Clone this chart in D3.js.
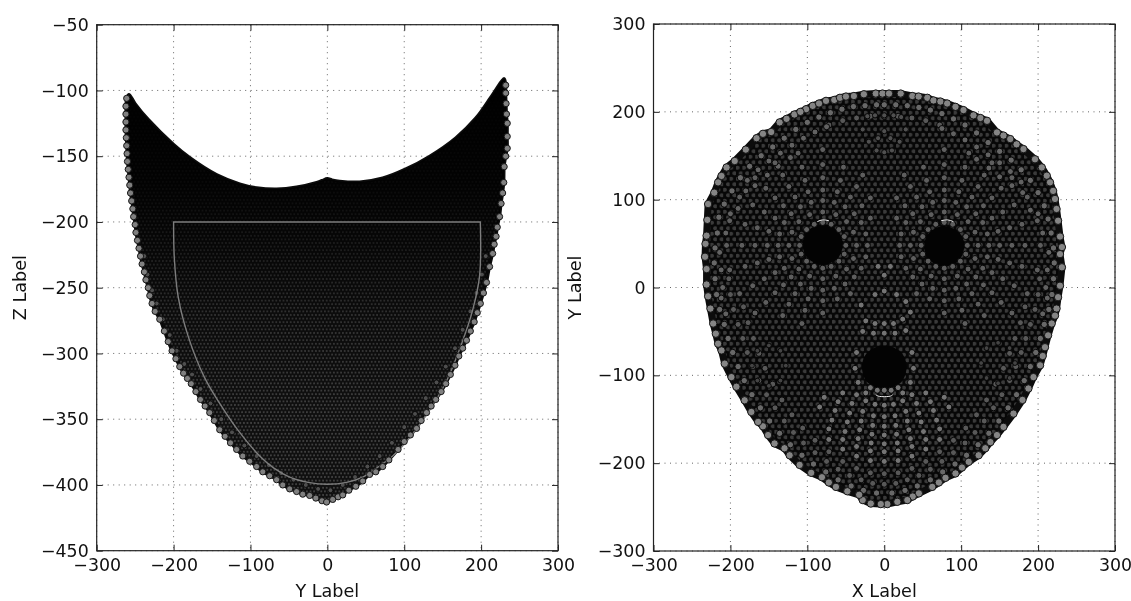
<!DOCTYPE html>
<html>
<head>
<meta charset="utf-8">
<script src="https://cdn.jsdelivr.net/npm/d3@7"></script>
<style>
  html, body { margin: 0; padding: 0; background: #fff; }
  svg { display: block; filter: blur(0.35px); }
  text { font-family: "DejaVu Sans", sans-serif; fill: #111; }
</style>
</head>
<body>
<div class="chart"></div>
<script>
const zTicks = [-450, -400, -350, -300, -250, -200, -150, -100, -50];
const faceXTicks = [-300, -200, -100, 0, 100, 200, 300];

// left panel: edge of the cloud (y, z)
const sideTopEdge = [[230,-91],[215,-103],[193,-121],[167,-136],[133,-150],[102,-159.7],[72,-166.6],[42,-169.6],[16,-169],[6,-168],[0,-167],[-7,-168.5],[-14,-170],[-40,-173.5],[-66,-175],[-92,-174],[-114,-171],[-144,-164],[-179,-151],[-200,-141],[-233,-122],[-250,-110],[-258,-103]];
const sideEdgeDots = [[-261,-106],[-262,-112],[-262,-118],[-262,-124],[-262,-130],[-261.5,-136],[-261,-142],[-260.5,-148],[-260,-154],[-259,-160],[-258,-166],[-257,-172],[-256,-178],[-254.5,-184],[-253,-190],[-252,-196],[-250,-202],[-249,-208],[-247,-214],[-245,-220],[-243,-226],[-241,-232],[-238,-238],[-236,-244],[-233,-250],[-231,-256],[-228,-262],[-224,-268],[-218,-274],[-212,-283],[-207,-291],[-202,-298],[-197,-304],[-192,-310],[-187,-315],[-182,-319],[-177,-323],[-171,-329],[-165,-335],[-159,-340],[-153,-345],[-147,-351],[-140,-358],[-133,-363],[-126,-368],[-118,-373],[-110,-378],[-101,-382],[-92,-386],[-84,-390],[-75,-393],[-66,-396],[-58,-400],[-49,-403],[-40,-405],[-32,-407],[-23,-408],[-15,-410],[-7,-412],[-1,-413],[7,-411],[14,-409],[20,-407.6],[28,-404],[37,-401],[46,-397],[55,-392],[63,-390],[72,-386],[80,-381],[92,-373],[100,-367],[108,-362],[116,-357],[122,-351],[129,-345],[135,-340],[141,-335],[148,-329],[154,-323],[160,-316],[166,-309],[171,-302],[176,-296],[181,-290],[186,-283],[191,-276],[195,-269],[199,-262],[203,-254],[207,-246],[211,-234],[215,-224],[217,-217],[219.5,-211],[221,-204],[224,-196],[226,-186],[228,-178],[229.5,-170],[230,-158],[232,-150],[234,-144],[234,-135],[234,-125],[233,-118],[232.5,-110],[232,-102],[232,-96]];
const sideInnerDots = [[-238,-226],[-234,-240],[-228,-252],[-222,-262],[-214,-274],[-205,-286],[-196,-298],[-186,-308],[-176,-316],[-165,-327],[-152,-338],[-138,-350],[-124,-360],[-108,-370],[-92,-378],[-76,-385],[-60,-391],[-44,-396],[-28,-400],[-12,-403],[4,-404],[20,-400],[36,-394],[52,-386],[68,-378],[84,-368],[100,-356],[114,-346],[128,-334],[142,-322],[154,-310],[166,-296],[176,-282],[186,-268],[194,-254],[201,-240],[206,-226]];
const sideCurve = [[-200,-200],[-199,-228],[-194,-257],[-181,-287],[-160,-318],[-140,-338],[-118,-357],[-88,-378],[-70,-387],[-49,-394],[-25,-398],[0,-399.5],[25,-398],[46,-394],[62,-388],[85,-378],[103,-367],[133,-343],[155,-321],[175,-292],[189,-267],[198,-241],[199,-200]];

// right panel: edge of the cloud (x, y)
const faceEdgeDots = [[-101.6,203],[-93,206.8],[-84.8,209.5],[-75.7,212.5],[-65,213.6],[-57.6,216],[-49.8,217.4],[-39.5,218],[-26.5,220],[-11,220.8],[-2.3,220.8],[6.2,220.8],[21.4,220.8],[36.5,218],[44.7,217.4],[56,216],[64,213],[73,211.7],[81.8,209.5],[92.6,205.7],[103,202],[116,196],[125,193],[133.6,189.8],[146.5,176.5],[155,173],[163.8,169],[172,163],[181,157.6],[196,146],[204.8,136.7],[211.3,127.3],[215.5,119.7],[219.6,110],[222,100.8],[224,89.4],[226,76],[228.5,58],[231,46],[228.5,38],[231,23],[228.5,2],[226,-11],[224,-24],[222,-32],[217.7,-41],[213,-54.5],[209,-68],[206,-78],[202.6,-88.6],[194,-102],[187.4,-115],[179.7,-128],[168,-143.6],[155,-158.7],[146.5,-168],[138,-176],[131.4,-183],[122.7,-191],[109.8,-198.5],[101,-205],[92.6,-211.7],[79.6,-216.7],[71,-222],[62.4,-227],[45,-234.4],[37,-238],[30,-242],[17,-244],[4,-246.6],[-4.5,-246.6],[-17.5,-246],[-28,-242],[-32.6,-236],[-48,-232],[-62.8,-227],[-72,-222],[-81,-216],[-95,-211],[-110,-202],[-123,-191],[-129.7,-183],[-142.6,-177.6],[-151,-168],[-157.7,-158],[-164,-153],[-172.8,-141.7],[-181.5,-128.4],[-192.2,-113],[-198.7,-102],[-207.4,-86.7],[-211.6,-71.6],[-216,-64],[-219,-52.6],[-222.4,-41],[-226,-24],[-229,-10],[-231,3.4],[-231,21],[-233,35],[-232.4,49.7],[-231,59],[-230,77],[-229,95],[-221,108],[-216,119.7],[-211.6,127],[-205,136.7],[-194.4,144],[-180,157],[-166,170],[-157.7,175],[-147,177],[-136,188],[-127,192],[-116.8,197],[-109,200]];
const faceContour2 = [[0,208],[15,208],[30,207],[45,205],[60,202],[75,198],[90,192],[105,185],[120,176],[135,165],[150,155],[165,145],[178,134],[190,122],[200,108],[208,93],[213,78],[217,62],[220,45],[221,28],[220,10],[218,-8],[214,-25],[208,-42],[203,-58],[197,-74],[190,-90],[182,-106],[172,-122],[161,-137],[149,-152],[136,-166],[122,-179],[107,-191],[92,-201],[76,-210],[60,-219],[43,-226],[27,-231],[10,-234],[-10,-234],[-27,-231],[-43,-226],[-60,-219],[-76,-210],[-92,-201],[-107,-191],[-122,-179],[-136,-166],[-149,-152],[-161,-137],[-172,-122],[-182,-106],[-190,-90],[-197,-74],[-203,-58],[-208,-42],[-214,-25],[-218,-8],[-220,10],[-221,28],[-220,45],[-217,62],[-215,80],[-208,95],[-198,110],[-187,125],[-175,138],[-160,150],[-145,160],[-130,170],[-115,180],[-100,188],[-85,194],[-70,199],[-55,203],[-40,206],[-25,207],[-10,208]];
const faceContour3 = [[0,-224],[15,-223],[30,-219],[45,-214],[60,-207],[75,-198],[90,-188],[105,-177],[118,-165],[130,-152],[142,-137],[153,-122],[163,-106],[171,-90],[178,-74],[184,-58],[190,-42],[196,-25],[200,-8],[202,10],[-15,-223],[-30,-219],[-45,-214],[-60,-207],[-75,-198],[-90,-188],[-105,-177],[-118,-165],[-130,-152],[-142,-137],[-153,-122],[-163,-106],[-171,-90],[-178,-74],[-184,-58],[-190,-42],[-196,-25],[-200,-8],[-202,10],[0,195],[18,195],[36,193],[54,190],[72,185],[-18,195],[-36,193],[-54,190],[-72,185]];
const faceContour4 = [[0,-212],[18,-211],[36,-206],[54,-198],[72,-187],[90,-174],[106,-160],[120,-145],[133,-128],[145,-110],[155,-92],[163,-75],[170,-58],[177,-40],[183,-22],[-18,-211],[-36,-206],[-54,-198],[-72,-187],[-90,-174],[-106,-160],[-120,-145],[-133,-128],[-145,-110],[-155,-92],[-163,-75],[-170,-58],[-177,-40],[-183,-22]];
const upperRows = [[-178,122],[-164,134],[-150,144],[-135,153],[-120,162],[-105,170],[-90,177],[-75,183],[178,120],[164,132],[150,142],[135,151],[120,160],[105,168],[90,175],[75,181],[-190,90],[-180,110],[-168,116],[-152,128],[-138,138],[-122,148],[190,88],[180,108],[166,116],[150,126],[136,136],[120,146],[-214,40],[-212,20],[-210,0],[-206,62],[-200,84],[214,40],[212,20],[210,0],[206,62],[200,84],[-212,-12],[-206,-30],[212,-12],[206,-30]];
const eyeRings = [[-50,48],[-52,58],[-59,66],[-69,72],[-80,74],[-91,72],[-101,66],[-108,58],[-110,48],[-108,38],[-101,30],[-91,24],[-80,22],[-69,24],[-59,30],[-52,38],
  [108,48],[106,58],[99,66],[89,72],[78,74],[67,72],[57,66],[50,58],[48,48],[50,38],[57,30],[67,24],[78,22],[89,24],[99,30],[106,38],
  [-36,48],[-40,63],[-49,75],[-63,83],[-80,86],[-97,83],[-111,75],[-120,63],[-124,48],[-120,33],[-111,21],[-97,13],[-80,10],[-63,13],[-49,21],[-40,33],
  [122,48],[118,63],[109,75],[95,83],[78,86],[61,83],[47,75],[38,63],[34,48],[38,33],[47,21],[61,13],[78,10],[95,13],[109,21],[118,33],
  [-22,48],[-24,61],[-30,74],[-39,84],[-51,92],[-65,97],[-80,99],[-95,97],[-109,92],[-121,84],[-130,74],[-136,61],[-138,48],[-136,35],[-130,22],[-121,12],[-109,4],[-95,-1],[-80,-3],[-65,-1],[-51,4],[-39,12],[-30,22],[-24,35],
  [136,48],[134,61],[128,74],[119,84],[107,92],[93,97],[78,99],[63,97],[49,92],[37,84],[28,74],[22,61],[20,48],[22,35],[28,22],[37,12],[49,4],[63,-1],[78,-3],[93,-1],[107,4],[119,12],[128,22],[134,35],
  [-80,111],[-99,109],[-116,103],[-131,93],[-142,79],[-150,64],[-152,48],[-150,32],[-142,17],[-131,3],[-116,-7],[-99,-13],[-80,-15],[-61,-13],[-44,-7],[-61,109],[-44,103],[-29,93],[-18,79],
  [78,111],[97,109],[114,103],[129,93],[140,79],[148,64],[150,48],[148,32],[140,17],[129,3],[114,-7],[97,-13],[78,-15],[59,-13],[42,-7],[59,109],[42,103],[27,93],[16,79],
  [-80,125],[-103,122],[-124,115],[-142,102],[-156,86],[-165,68],[-168,48],[-165,28],[-156,10],[-142,-6],[-124,-19],[-103,-26],[-80,-29],[-57,122],[-36,115],[-18,102],
  [78,125],[101,122],[122,115],[140,102],[154,86],[163,68],[166,48],[163,28],[154,10],[140,-6],[122,-19],[101,-26],[78,-29],[55,122],[34,115],[16,102],
  [-80,140],[-107,137],[-132,128],[-154,113],[-171,94],[-181,72],[-185,48],[-181,24],[-171,2],[-154,-17],[-132,-32],[-107,-41],[-53,137],[-28,128],
  [78,140],[105,137],[130,128],[152,113],[169,94],[179,72],[183,48],[179,24],[169,2],[152,-17],[130,-32],[105,-41],[51,137],[26,128],
  [-80,157],[-112,153],[-142,142],[-168,125],[-188,103],[-201,76],[-205,48],[-201,20],[-188,-7],[-168,-29],
  [78,157],[110,153],[140,142],[166,125],[186,103],[199,76],[203,48],[199,20],[186,-7],[166,-29]];
const chinRows = [[0,-134],[12,-133],[-12,-133],[24,-129],[-24,-129],[36,-122],[-36,-122],
  [0,-147],[14,-146],[-14,-146],[28,-141],[-28,-141],[42,-132],[-42,-132],[54,-120],[-54,-120],
  [0,-158],[15,-157],[-15,-157],[30,-152],[-30,-152],[45,-143],[-45,-143],[60,-130],[-60,-130],
  [0,-168],[16,-167],[-16,-167],[32,-162],[-32,-162],[48,-153],[-48,-153],[64,-140],[-64,-140],[78,-125],[-78,-125],
  [0,-178],[17,-177],[-17,-177],[34,-172],[-34,-172],[51,-164],[-51,-164],[68,-151],[-68,-151],[84,-136],[-84,-136],
  [0,-187],[18,-186],[-18,-186],[36,-181],[-36,-181],[54,-173],[-54,-173],[72,-161],[-72,-161],
  [0,-198],[18,-197],[-18,-197],[36,-192],[-36,-192],[54,-184],[-54,-184],[72,-173],[-72,-173]];
const noseDots = [[0,-41],[-12,-41],[12,-41],[-24,-38],[24,-36],[0,-52],[-14,-52],[14,-52],[-28,-50],[28,-49],[-38,-92],[38,-92],[-36,-74],[36,-74],[-34,-108],[34,-108],[-24,-120],[24,-120],[0,-117],[-9,-117],[9,-117],[-18,-114],[18,-114],[34,-28],[28,-16],[-30,-20],[16,-8],[-12,-8],[0,-4],[0,14],[-8,24],[8,24]];
const foreheadDots = [[-22,195],[-12,196],[0,196],[12,196],[22,194],[28,180],[20,166],[10,156],[0,154],[-10,156],[-20,166],[-28,180],[0,178],[-8,170],[8,170]];
const cheekDots = [[-172,-89],[-165,-72],[-150,-66],[-135,-72],[-128,-89],[-135,-106],[-150,-112],[-165,-106],[126,-86],[133,-69],[148,-63],[163,-69],[170,-86],[163,-103],[148,-109],[133,-103]];
const leftEyeCore = [[-106,50],[-100,64],[-80,72],[-60,64],[-54,50],[-60,34],[-80,26],[-100,34]];
const rightEyeCore = [[52,48],[58,62],[78,70],[98,62],[104,48],[98,32],[78,24],[58,32]];
const noseCore = [[-29,-90],[-22,-74],[0,-66],[22,-74],[29,-90],[22,-108],[0,-115],[-22,-108]];
const gapArcs = [[[-11,-122],[-6,-124],[6,-124],[11,-122]],[[-87,75],[-80,77],[-72,76]],[[74,76],[82,77],[90,75]]];

const width = 1131, height = 601;
const svg = d3.select(".chart").append("svg").attr("width", width).attr("height", height);
const defs = svg.append("defs");

function lattice(id, w, h, r, bg, dot) {
    const p = defs.append("pattern").attr("id", id).attr("patternUnits", "userSpaceOnUse")
        .attr("width", w).attr("height", h);
    p.append("rect").attr("width", w).attr("height", h).attr("fill", bg);
    p.append("circle").attr("cx", w / 4).attr("cy", h / 4).attr("r", r).attr("fill", dot);
    p.append("circle").attr("cx", w * 3 / 4).attr("cy", h * 3 / 4).attr("r", r).attr("fill", dot);
}
lattice("fineDots", 3.6, 7.2, 1.05, "#0e0e0e", "#424242");
lattice("faceDots", 6.4, 11, 2, "#070707", "#3a3a3a");

const fade = defs.append("linearGradient").attr("id", "fade").attr("x1", 0).attr("x2", 0).attr("y1", 0).attr("y2", 1);
fade.append("stop").attr("offset", "0").attr("stop-color", "#000").attr("stop-opacity", 1);
fade.append("stop").attr("offset", "0.25").attr("stop-color", "#000").attr("stop-opacity", 0.85);
fade.append("stop").attr("offset", "0.55").attr("stop-color", "#000").attr("stop-opacity", 0.25);
fade.append("stop").attr("offset", "0.8").attr("stop-color", "#000").attr("stop-opacity", 0);

function panel(left, right, top, bottom, xDomain, yDomain, yTicks, xLabel, yLabel, labelX) {
    const x = d3.scaleLinear().domain(xDomain).range([left, right]);
    const y = d3.scaleLinear().domain(yDomain).range([bottom, top]);
    const g = svg.append("g");
    const under = g.append("g");
    under.selectAll(".gx").data(faceXTicks).join("line")
        .attr("x1", d => x(d)).attr("x2", d => x(d)).attr("y1", top).attr("y2", bottom)
        .attr("stroke", "#555").attr("stroke-width", 0.9).attr("stroke-dasharray", "1 4.5");
    under.selectAll(".gy").data(yTicks).join("line")
        .attr("x1", left).attr("x2", right).attr("y1", d => y(d)).attr("y2", d => y(d))
        .attr("stroke", "#555").attr("stroke-width", 0.9).attr("stroke-dasharray", "1 4.5");
    const marks = g.append("g");
    const frame = g.append("g");
    frame.append("rect").attr("x", left).attr("y", top).attr("width", right - left).attr("height", bottom - top)
        .attr("fill", "none").attr("stroke", "#222").attr("stroke-width", 1.2);
    const fmt = d3.format("d");
    const styleAxis = a => { a.select(".domain").remove(); a.selectAll("line").attr("stroke", "#222").attr("stroke-width", 1); a.selectAll("text").style("font-size", "17.4px"); };
    frame.append("g").attr("transform", `translate(0,${bottom})`)
        .call(d3.axisBottom(x).tickValues(faceXTicks).tickSize(-6).tickPadding(8).tickFormat(fmt)).call(styleAxis);
    frame.append("g").attr("transform", `translate(0,${top})`)
        .call(d3.axisTop(x).tickValues(faceXTicks).tickSize(-6).tickFormat("")).call(styleAxis);
    frame.append("g").attr("transform", `translate(${left},0)`)
        .call(d3.axisLeft(y).tickValues(yTicks).tickSize(-6).tickPadding(8).tickFormat(fmt)).call(styleAxis);
    frame.append("g").attr("transform", `translate(${right},0)`)
        .call(d3.axisRight(y).tickValues(yTicks).tickSize(-6).tickFormat("")).call(styleAxis);
    frame.append("text").attr("x", (left + right) / 2).attr("y", 597).attr("text-anchor", "middle")
        .style("font-size", "17.6px").text(xLabel);
    frame.append("text").attr("transform", `translate(${labelX},${(top + bottom) / 2}) rotate(-90)`)
        .attr("text-anchor", "middle").style("font-size", "17.6px").text(yLabel);
    return { x, y, marks };
}

function dots(p, data, r, fill, edge) {
    p.marks.append("g").selectAll("circle").data(data).join("circle")
        .attr("cx", d => p.x(d[0])).attr("cy", d => p.y(d[1])).attr("r", r)
        .attr("fill", fill).attr("stroke", edge).attr("stroke-width", 1);
}

function patch(p, data, fill, curve) {
    const line = d3.line().x(d => p.x(d[0])).y(d => p.y(d[1])).curve(curve || d3.curveLinearClosed);
    return p.marks.append("path").attr("d", line(data)).attr("fill", fill);
}

// left panel
const side = panel(96.7, 558, 24.7, 550.7, [-300, 300], [-450, -50], zTicks, "Y Label", "Z Label", 26);
const sideHull = sideEdgeDots.concat(sideTopEdge);
patch(side, sideHull, "url(#fineDots)", d3.curveCatmullRomClosed)
    .attr("stroke", "#0c0c0c").attr("stroke-width", 3).attr("stroke-linejoin", "round");
patch(side, sideHull, "url(#fade)", d3.curveCatmullRomClosed);
dots(side, sideInnerDots, 2.5, "#4e4e4e", "#0c0c0c");
const sideLine = d3.line().x(d => side.x(d[0])).y(d => side.y(d[1])).curve(d3.curveCatmullRom);
side.marks.append("path").attr("d", sideLine(sideCurve) + "Z")
    .attr("fill", "none").attr("stroke", "#7d7d7d").attr("stroke-width", 1.4);
dots(side, sideEdgeDots, 3.1, "#808080", "#161616");

// right panel
const face = panel(653.5, 1115, 24, 551, [-300, 300], [-300, 300], faceXTicks, "X Label", "Y Label", 581);
patch(face, faceEdgeDots, "url(#faceDots)")
    .attr("stroke", "#0c0c0c").attr("stroke-width", 7).attr("stroke-linejoin", "round");
patch(face, leftEyeCore, "#030303", d3.curveCatmullRomClosed);
patch(face, rightEyeCore, "#030303", d3.curveCatmullRomClosed);
patch(face, noseCore, "#030303", d3.curveCatmullRomClosed);
dots(face, faceContour4, 3, "#585858", "#070707");
dots(face, faceContour3, 3, "#585858", "#070707");
dots(face, upperRows, 3, "#626262", "#070707");
dots(face, eyeRings, 3, "#5e5e5e", "#070707");
dots(face, cheekDots, 2.4, "#444", "#070707");
dots(face, foreheadDots, 2.6, "#505050", "#070707");
dots(face, chinRows, 3, "#747474", "#070707");
dots(face, noseDots, 3, "#747474", "#070707");
dots(face, faceContour2, 3.2, "#686868", "#070707");
dots(face, faceEdgeDots, 3.7, "#858585", "#161616");
gapArcs.forEach(a => {
    face.marks.append("path").attr("d", d3.line().x(d => face.x(d[0])).y(d => face.y(d[1])).curve(d3.curveNatural)(a))
        .attr("fill", "none").attr("stroke", "#eee").attr("stroke-width", 1);
});
</script>
</body>
</html>
